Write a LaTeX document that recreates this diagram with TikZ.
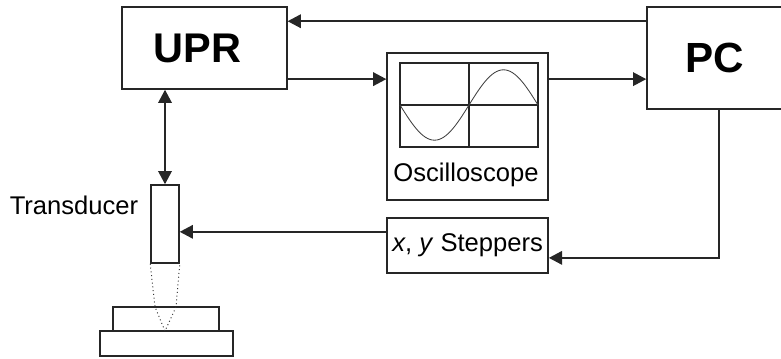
\documentclass[tikz,border=0pt]{standalone}
\usepackage{fontspec}
\setmainfont{Liberation Sans}
\usetikzlibrary{arrows.meta}
\begin{document}
\begin{tikzpicture}[>={Triangle[length=0.33cm, width=0.34cm]},
    % box style
    block/.style={
        draw=black!85,
        line width=1.1pt,
        inner sep=0pt,
        align=center
    },
    % arrow style
    arrow/.style={->, line width=1.15pt, black!85},
    % label without border
    text_node/.style={
        align=center,
        font=\fontsize{18.2}{22}\selectfont,
        inner sep=0pt
    }
]
    % keeps the page at the reference size (the PC box runs off the edge)
    \clip (0, 0) rectangle (19.525, 8.95);

    % ================== Main boxes ==================
    \node[block, minimum width=4.125cm, minimum height=2.05cm, font=\fontsize{29.5}{36}\selectfont\bfseries] (upr) at (5.11, 7.75) {UPR\hspace{0.35cm}};
    \node[block, minimum width=3.4cm, minimum height=2.55cm, font=\fontsize{30}{36}\selectfont\bfseries] (pc) at (17.875, 7.5) {PC};
    \node[block, minimum width=4.025cm, minimum height=3.675cm] (osc) at (11.69, 5.79) {};
    \node[block, minimum width=4.025cm, minimum height=1.375cm, text_node] (stepper) at (11.69, 2.81) {\raisebox{0.05cm}{\textit{x}, \textit{y} Steppers}};
    \node[text_node] (osc_label) at (11.65, 4.59) {Oscilloscope};

    % ================== Screen ==================
    \node[block, line width=1.2pt, minimum width=3.45cm, minimum height=2.1cm] (screen) at (11.725, 6.325) {};
    \draw[line width=1.2pt, black!85] (screen.north) -- (screen.south);
    \draw[line width=1.2pt, black!85] (screen.west) -- (screen.east);
    \draw[black!75, line width=0.6pt] plot[domain=0:360, samples=61, smooth] ({10 + \x/360*3.45}, {6.325 - 0.88*sin(\x)});

    % ================== Transducer and sample ==================
    \node[block, minimum width=0.7cm, minimum height=1.95cm] (trans) at (4.125, 3.35) {};
    \node[text_node] (trans_label) at (1.85, 3.825) {Transducer};
    \node[block, minimum width=2.65cm, minimum height=0.6cm] (sample) at (4.15, 0.975) {};
    \node[block, minimum width=3.325cm, minimum height=0.625cm] (stage) at (4.16, 0.3625) {};

    % beam
    \coordinate (beam_l) at (3.875, 1.275);
    \coordinate (beam_r) at (4.4, 1.275);
    \coordinate (focus) at (4.125, 0.675);
    \draw[dotted, line width=0.7pt, black!80] (trans.south west) -- (beam_l) -- (focus) -- (beam_r) -- (trans.south east);

    % ================== Connections ==================
    \coordinate (pc_up) at ([yshift=-0.375cm]pc.north west);
    \coordinate (osc_in) at ([yshift=-0.675cm]osc.north west);
    \coordinate (stepper_in) at ([yshift=-0.3625cm]stepper.north west);
    \coordinate (stepper_back) at ([yshift=0.4cm]stepper.south east);
    \coordinate (pc_out) at ([xshift=0.1cm]pc.south);

    \draw[arrow] (pc_up) -- (pc_up -| upr.east);
    \draw[arrow] (osc_in -| upr.east) -- (osc_in);
    \draw[arrow] (osc_in -| osc.east) -- (osc_in -| pc.west);
    \draw[arrow, <->] (trans.north |- upr.south) -- (trans.north);
    \draw[arrow] (stepper_in) -- (stepper_in -| trans.east);
    \draw[arrow] (pc_out) |- (stepper_back);

\end{tikzpicture}
\end{document}
